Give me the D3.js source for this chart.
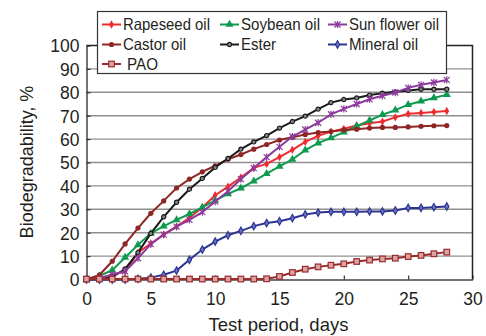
<!DOCTYPE html>
<html>
<head>
<meta charset="utf-8">
<script src="https://cdn.jsdelivr.net/npm/d3@7"></script>
<style>
  body { margin: 0; background: #fff; }
  text { font-family: "Liberation Sans", Arial, sans-serif; fill: #231f20; }
</style>
</head>
<body>
<svg id="chart" width="486" height="336"></svg>
<script>
// test days
var days = [0,1,2,3,4,5,6,7,8,9,10,11,12,13,14,15,16,17,18,19,20,21,22,23,24,25,26,27,28];

// biodegradability, %
var rapeseed  = [0,0.5,2,3.5,11.5,15.4,19.2,22.6,26.4,30.8,36,39.7,43.6,47.7,49.4,52.3,55.4,58.8,61.4,63.2,64.4,65.8,66.8,67.5,69.3,70.8,71.2,71.6,72];
var soybean   = [0,1.5,4,9.4,14.8,19.7,22.8,25.5,28,30.8,33.8,36.6,39,42,45.2,48.3,51.3,55.3,58.3,60.5,63,65.5,68,70.4,72.4,74.7,76.2,77.6,79];
var sunflower = [0,0.5,2,3.5,9.1,15.1,19.2,22.6,25.5,28.8,33.3,37.7,42.9,47.6,52.3,56.7,61.1,64.1,67,70.6,72.9,75,77,78.5,79.9,81.9,83.2,84.2,85.3];
var castor    = [0,1.9,7.8,15.2,22,28.3,33.6,39.1,42.9,46,48.6,51.4,53.4,55.7,57.7,59.6,60.8,62,62.8,63.2,63.9,64.2,64.7,65,65,65.2,65.5,65.7,65.8];
var ester     = [0,0.3,1,4.5,11.5,19.7,26.8,33,38.6,43.2,47.9,51.7,55.7,58.8,61.5,64.7,67.5,69.8,72.8,75.6,76.9,77.6,78.8,79.6,80.2,80.8,81.3,81.3,81.3];
var mineral   = [0,0,0,0,0.3,0.8,2,3.8,8.4,12.8,16.2,18.9,20.8,22.8,24.1,24.9,26.2,27.8,28.6,28.9,28.9,28.9,29.1,29.1,29.5,30.6,30.6,30.9,31.2];
var pao       = [0.2,0.2,0.2,0.2,0.2,0.2,0.2,0.2,0.2,0.2,0.2,0.2,0.2,0.2,0.3,1.3,3,4.4,5.4,6.1,6.7,7.7,8.3,8.8,9.1,9.8,10.3,11,11.7];

var xTicks = [0,5,10,15,20,25,30];
var yTicks = [0,10,20,30,40,50,60,70,80,90,100];

var series = [
  {name: "Rapeseed oil",   values: rapeseed,  color: "#ee2b2f", shape: "diamond"},
  {name: "Soybean oil",    values: soybean,   color: "#0c9a4e", shape: "triangle"},
  {name: "Sun flower oil", values: sunflower, color: "#8c3a9c", shape: "star"},
  {name: "Castor oil",     values: castor,    color: "#8e2626", shape: "circle"},
  {name: "Ester",          values: ester,     color: "#1b1b1b", shape: "ring"},
  {name: "Mineral oil",    values: mineral,   color: "#2d3592", shape: "diamond2"},
  {name: "PAO",            values: pao,       color: "#982b2b", shape: "square"}
];
var drawOrder = [5, 0, 1, 3, 4, 2, 6];
// legend label widths (condensed face in the original)
var legendW = [87, 79, 90, 63, 35, 69, 31];

var svg = d3.select("#chart");
var mLeft = 86.5, mRight = 472.5, mTop = 45.5, mBottom = 279.5;

var x = d3.scaleLinear().domain([0, 30]).range([mLeft, mRight]);
var y = d3.scaleLinear().domain([0, 100]).range([mBottom, mTop]);

// grid
svg.append("g").selectAll("line")
  .data(yTicks.filter(function(t){ return t > 0 && t < 100; }))
  .enter().append("line")
    .attr("x1", mLeft).attr("x2", mRight)
    .attr("y1", function(d){ return y(d); }).attr("y2", function(d){ return y(d); })
    .attr("stroke", "#8f8f8f").attr("stroke-width", 1.4);

// axes
var xAxis = svg.append("g").attr("transform", "translate(0," + mBottom + ")")
  .call(d3.axisBottom(x).tickValues(xTicks).tickSizeInner(-4).tickSizeOuter(0).tickPadding(9));
var yAxis = svg.append("g").attr("transform", "translate(" + mLeft + ",0)")
  .call(d3.axisLeft(y).tickValues(yTicks).tickSizeInner(-4).tickSizeOuter(0).tickPadding(7));
[xAxis, yAxis].forEach(function(a){
  a.select(".domain").attr("stroke", "#444").attr("stroke-width", 1.5);
  a.selectAll(".tick line").attr("stroke", "#333").attr("stroke-width", 1.2);
  a.selectAll("text").attr("font-size", 17.5).attr("fill", "#231f20")
    .style("font-family", "'Liberation Sans', Arial, sans-serif");
});
xAxis.selectAll(".tick text").attr("dy", "0.95em");
yAxis.selectAll(".tick text").attr("dy", "0.36em");

// frame
svg.append("path")
  .attr("d", "M" + mLeft + "," + mTop + "H" + mRight + "V" + mBottom)
  .attr("fill", "none").attr("stroke", "#222").attr("stroke-width", 1.5);

function marker(sel, s) {
  var c = s.color;
  if (s.shape == "diamond") {
    sel.append("path").attr("d", d3.symbol(d3.symbolDiamond, 20)).attr("fill", c);
  } else if (s.shape == "diamond2") {
    sel.append("path").attr("d", d3.symbol(d3.symbolDiamond, 16)).attr("fill", "#6d74c4").attr("stroke", c).attr("stroke-width", 1.2);
  } else if (s.shape == "triangle") {
    sel.append("path").attr("d", d3.symbol(d3.symbolTriangle, 28)).attr("fill", c);
  } else if (s.shape == "circle") {
    sel.append("circle").attr("r", 2.6).attr("fill", c);
  } else if (s.shape == "ring") {
    sel.append("circle").attr("r", 2.1).attr("fill", "#888").attr("stroke", c).attr("stroke-width", 1.2);
  } else if (s.shape == "square") {
    sel.append("rect").attr("x", -2.8).attr("y", -2.8).attr("width", 5.6).attr("height", 5.6)
      .attr("fill", "#dba3a3").attr("stroke", c).attr("stroke-width", 1.2);
  } else if (s.shape == "star") {
    sel.append("path").attr("d", "M-3,-3L3,3M-3,3L3,-3M0,-3.6L0,3.6")
      .attr("stroke", c).attr("stroke-width", 1.2);
  }
}

var line = d3.line()
  .x(function(d, i){ return x(days[i]); })
  .y(function(d){ return y(d); });

drawOrder.forEach(function(k){
  var s = series[k];
  var g = svg.append("g");
  g.append("path").attr("d", line(s.values))
    .attr("fill", "none").attr("stroke", s.color).attr("stroke-width", 2);
  g.selectAll(".pt").data(s.values).enter().append("g")
    .attr("transform", function(d, i){ return "translate(" + x(days[i]) + "," + y(d) + ")"; })
    .each(function(){ marker(d3.select(this), s); });
});

// legend
var lg = svg.append("g");
lg.append("rect").attr("x", 97.5).attr("y", 11.5).attr("width", 349).attr("height", 62)
  .attr("fill", "#fff").attr("stroke", "#333").attr("stroke-width", 1.2);
var colX = [102, 220, 328];
var rowY = [30, 50, 69.5];
series.forEach(function(s, i){
  var cx = colX[i % 3], cy = rowY[Math.floor(i / 3)];
  var item = lg.append("g").attr("transform", "translate(" + cx + "," + (cy - 5.5) + ")");
  item.append("line").attr("x1", 0).attr("x2", 19).attr("stroke", s.color).attr("stroke-width", 2);
  marker(item.append("g").attr("transform", "translate(9.5,0)"), s);
  lg.append("text").attr("x", cx + (s.shape == "square" ? 25 : 21)).attr("y", cy)
    .attr("font-size", 16.5).attr("textLength", legendW[i]).attr("lengthAdjust", "spacingAndGlyphs")
    .text(s.name);
});

// axis titles
svg.append("text").attr("x", (mLeft + mRight) / 2 - 1).attr("y", 331)
  .attr("text-anchor", "middle").attr("font-size", 18.5).text("Test period, days");
svg.append("text").attr("transform", "translate(33,162) rotate(-90)")
  .attr("text-anchor", "middle").attr("font-size", 18).text("Biodegradability, %");
</script>
</body>
</html>
